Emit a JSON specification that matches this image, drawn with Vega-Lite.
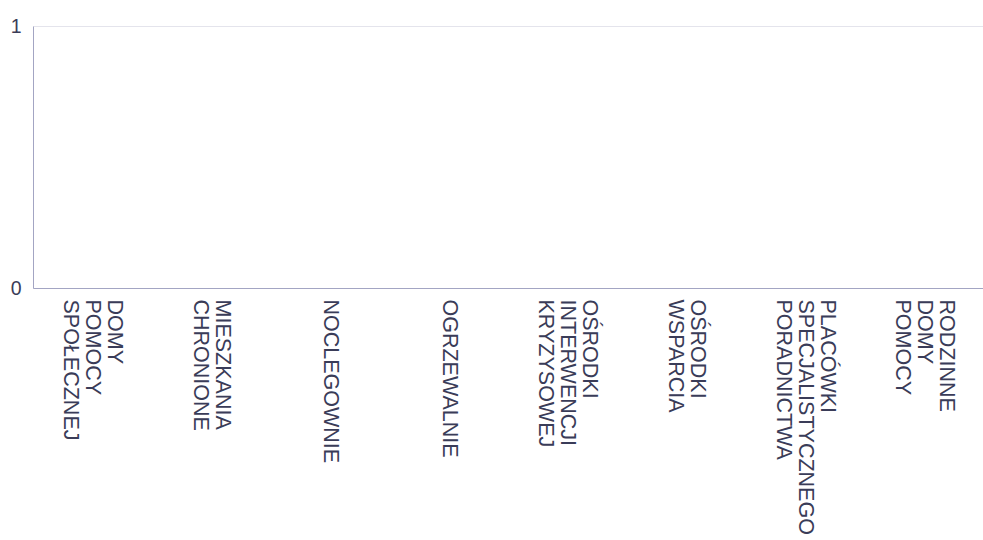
{
  "$schema": "https://vega.github.io/schema/vega-lite/v6.json",
  "autosize": {"type": "none"},
  "width": 950,
  "height": 262,
  "padding": {"left": 33, "top": 26, "right": 0, "bottom": 252},
  "background": "white",
  "data": {"values": [
    {"kategoria": "DOMY POMOCY SPOŁECZNEJ", "wartosc": 0},
    {"kategoria": "MIESZKANIA CHRONIONE", "wartosc": 0},
    {"kategoria": "NOCLEGOWNIE", "wartosc": 0},
    {"kategoria": "OGRZEWALNIE", "wartosc": 0},
    {"kategoria": "OŚRODKI INTERWENCJI KRYZYSOWEJ", "wartosc": 0},
    {"kategoria": "OŚRODKI WSPARCIA", "wartosc": 0},
    {"kategoria": "PLACÓWKI SPECJALISTYCZNEGO PORADNICTWA", "wartosc": 0},
    {"kategoria": "RODZINNE DOMY POMOCY", "wartosc": 0}
  ]},
  "mark": {"type": "bar", "color": "#5b5f97"},
  "encoding": {
    "x": {
      "field": "kategoria", "type": "nominal", "sort": null,
      "axis": {
        "title": null, "labelAngle": 90, "labelAlign": "left", "labelBaseline": "middle",
        "labelExpr": "split(datum.label, ' ')", "labelLineHeight": 22,
        "labelOffset": {
          "condition": [
            {"test": "length(split(datum.label, ' ')) == 3", "value": 22},
            {"test": "length(split(datum.label, ' ')) == 2", "value": 11}
          ],
          "value": 0
        },
        "labelFont": "Liberation Sans", "labelFontSize": 21.5, "labelColor": "#3a3c58",
        "labelLimit": 400, "labelPadding": 11, "ticks": false,
        "domainColor": "#a3a5c3", "domainWidth": 1, "grid": false
      }
    },
    "y": {
      "field": "wartosc", "type": "quantitative",
      "scale": {"domain": [0, 1]},
      "axis": {
        "title": null, "values": [0, 1], "format": "d", "ticks": false, "labelPadding": 12,
        "labelFont": "Liberation Sans", "labelFontSize": 19.5, "labelColor": "#3a3c58",
        "domainColor": "#a3a5c3", "gridColor": "#e4e4ec", "grid": true
      }
    }
  },
  "config": {"view": {"stroke": null}}
}
